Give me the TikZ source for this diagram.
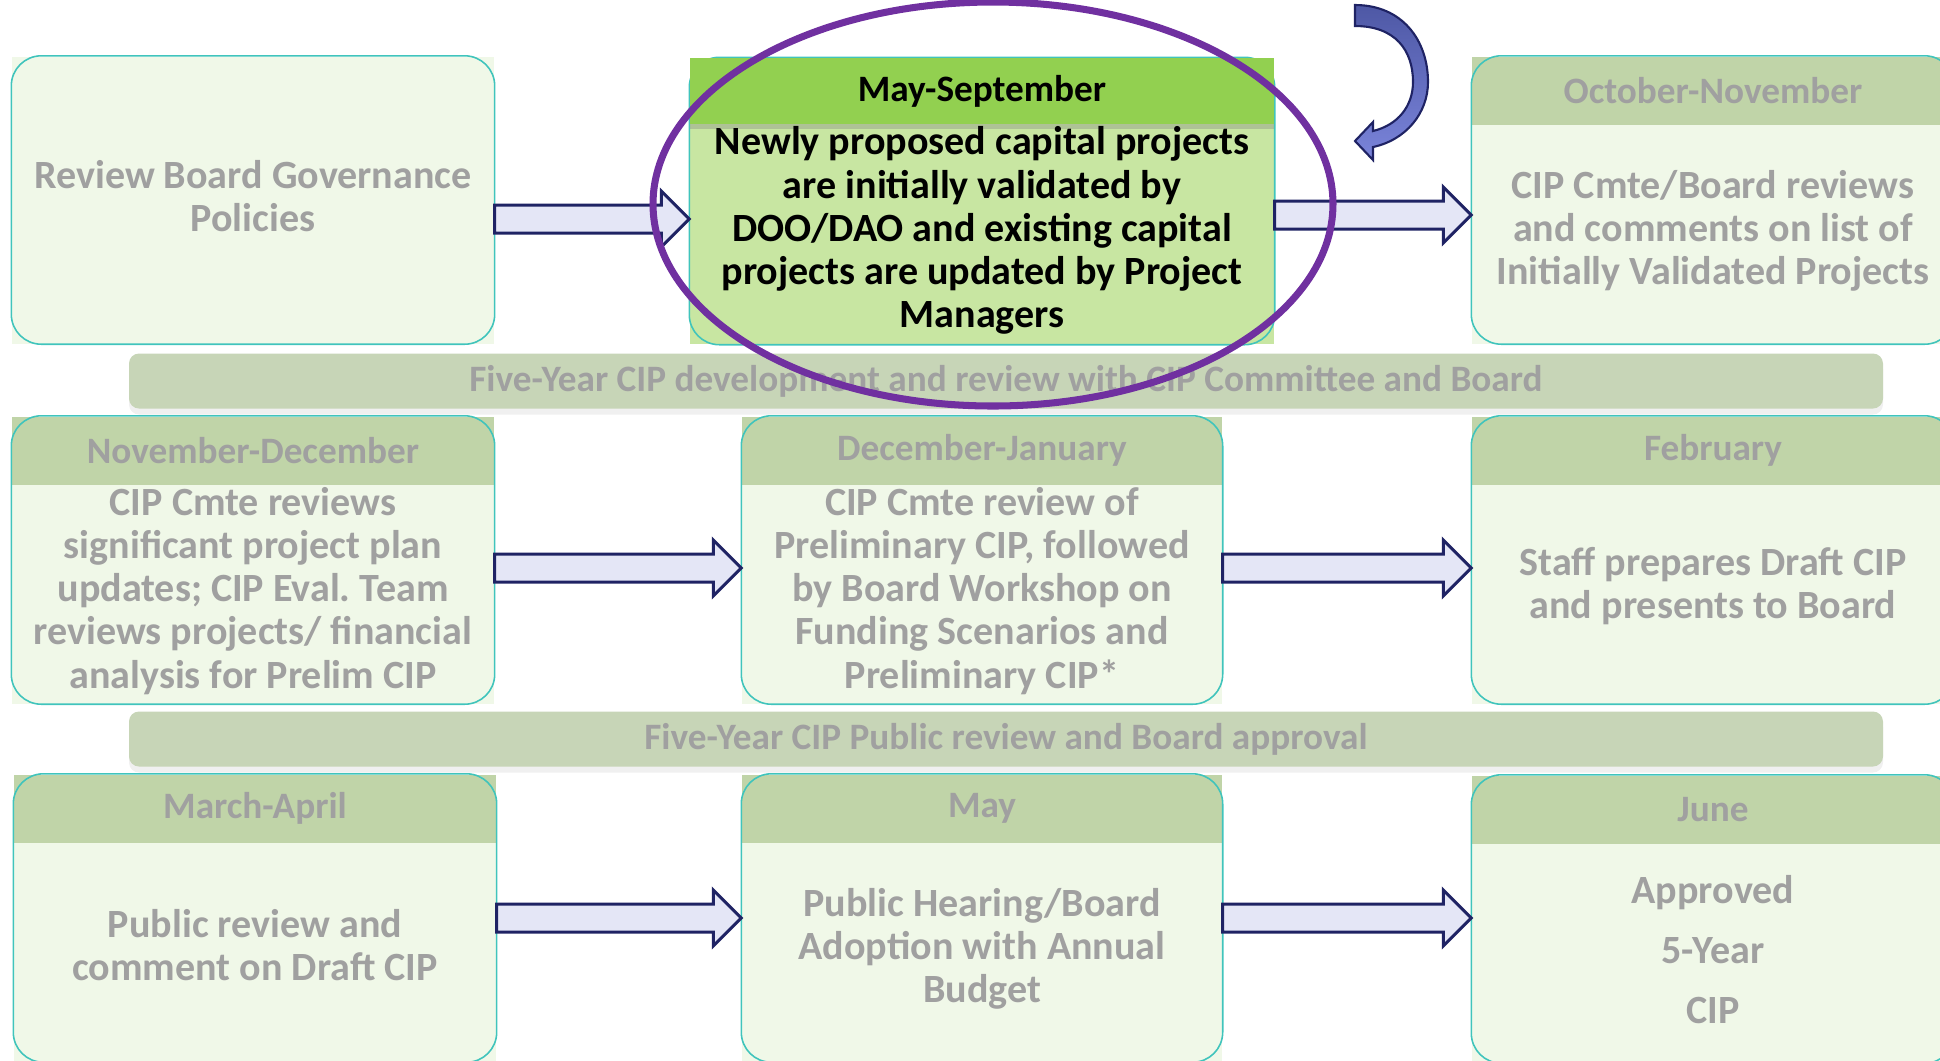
\documentclass[tikz,border=0pt]{standalone}
\usepackage{fontspec}
\setmainfont{Carlito}
\usetikzlibrary{calc,positioning,shadows}

\definecolor{stagefill}{RGB}{240,248,232}
\definecolor{stagerim}{RGB}{64,196,188}
\definecolor{monthfill}{RGB}{192,212,168}
\definecolor{fadegrey}{RGB}{160,160,160}
\definecolor{validfill}{RGB}{200,230,162}
\definecolor{validbar}{RGB}{146,208,80}
\definecolor{phasefill}{RGB}{199,213,183}
\definecolor{flowfill}{RGB}{228,230,246}
\definecolor{flowrim}{RGB}{31,35,100}
\definecolor{ringpurple}{RGB}{112,48,160}
\definecolor{swirltop}{RGB}{78,88,165}
\definecolor{swirlbottom}{RGB}{122,132,218}

\newcommand{\flowarrow}[2]{%
  \draw[flow] let \p1=(#1), \p2=(#2) in
    (\x1,\y1+1.4mm) -- (\x2-2.8mm,\y1+1.4mm) -- (\x2-2.8mm,\y1+2.8mm) --
    (\x2,\y1) -- (\x2-2.8mm,\y1-2.8mm) -- (\x2-2.8mm,\y1-1.4mm) --
    (\x1,\y1-1.4mm) -- cycle;}

\begin{document}
\begin{tikzpicture}[x=0.1mm,y=-0.1mm,
      every node/.style={font=\fontsize{11.4}{12.3}\selectfont\bfseries},
      stage/.style={fill=stagefill, minimum width=48.2mm, minimum height=28.7mm, inner sep=0pt},
      rim/.style={draw=stagerim, line width=0.45pt, rounded corners=3mm},
      month/.style={fill=monthfill, minimum width=48.2mm, minimum height=6.8mm, inner sep=0pt, text=fadegrey,
        anchor=north, font=\fontsize{10.6}{12}\selectfont\bfseries},
      says/.style={align=center, text=fadegrey, inner sep=0pt, yshift=0.4mm},
      phase/.style={fill=phasefill, rounded corners=1mm, minimum width=175.4mm, minimum height=5.5mm, inner sep=0pt,
        text=fadegrey, font=\fontsize{10.6}{12}\selectfont\bfseries,
        drop shadow={shadow xshift=0mm, shadow yshift=-0.6mm, opacity=0.12}},
      flow/.style={draw=flowrim, fill=flowfill, line width=0.85pt, line join=miter},
      ring/.style={draw=ringpurple, line width=2pt},
      swirl/.style={draw=flowrim, line width=0.6pt, top color=swirltop, bottom color=swirlbottom}]
      \useasboundingbox (0,0) rectangle (1940,1060);
      \clip (0,0) rectangle (1940,1060);

      \node[stage] at (253,200) (review) {};
      \draw[rim] (review.south west) rectangle (review.north east);
      \node[says] at (review) (reviewtxt) {Review Board Governance\\Policies};

      \node[stage, fill=validfill, minimum width=58.4mm, minimum height=28.6mm] at (982,201) (validate) {};
      \draw[rim] (validate.south west) rectangle (validate.north east);
      \node[month, fill=validbar, text=black, minimum width=58.4mm, minimum height=6.6mm,
        drop shadow={shadow xshift=0mm, shadow yshift=-0.5mm, opacity=0.35}] at (validate.north) (validatehd) {May-September};
      \node[says, text=black] at ($(validatehd.south)!0.5!(validate.south)$) (validatetxt)
        {Newly proposed capital projects\\are initially validated by\\DOO/DAO and existing capital\\projects are updated by Project\\Managers};

      \node[stage] at (1713,200) (cmtelist) {};
      \node[month] at (cmtelist.north) (cmtelisthd) {October-November};
      \draw[rim] (cmtelist.south west) rectangle (cmtelist.north east);
      \node[says] at ($(cmtelisthd.south)!0.5!(cmtelist.south)$) (cmtelisttxt)
        {CIP Cmte/Board reviews\\and comments on list of\\Initially Validated Projects};

      \node[phase] at (1006,381) (develop) {Five-Year CIP development and review with CIP Committee and Board};

      \node[stage] at (253,560) (prelim) {};
      \node[month] at (prelim.north) (prelimhd) {November-December};
      \draw[rim] (prelim.south west) rectangle (prelim.north east);
      \node[says] at ($(prelimhd.south)!0.5!(prelim.south)$) (prelimtxt)
        {CIP Cmte reviews\\significant project plan\\updates; CIP Eval.\ Team\\reviews projects/ financial\\analysis for Prelim CIP};

      \node[stage, minimum width=48mm] at (982,560) (workshop) {};
      \node[month, minimum width=48mm] at (workshop.north) (workshophd) {December-January};
      \draw[rim] (workshop.south west) rectangle (workshop.north east);
      \node[says] at ($(workshophd.south)!0.5!(workshop.south)$) (workshoptxt)
        {CIP Cmte review of\\Preliminary CIP, followed\\by Board Workshop on\\Funding Scenarios and\\Preliminary CIP*};

      \node[stage] at (1713,560) (draft) {};
      \node[month] at (draft.north) (drafthd) {February};
      \draw[rim] (draft.south west) rectangle (draft.north east);
      \node[says, yshift=0.5mm] at ($(drafthd.south)!0.5!(draft.south)$) (drafttxt)
        {Staff prepares Draft CIP\\and presents to Board};

      \node[phase] at (1006,739) (approval) {Five-Year CIP Public review and Board approval};

      \node[stage] at (255,918) (publicrev) {};
      \node[month] at (publicrev.north) (publicrevhd) {March-April};
      \draw[rim] (publicrev.south west) rectangle (publicrev.north east);
      \node[says, yshift=0.35mm] at ($(publicrevhd.south)!0.5!(publicrev.south)$) (publicrevtxt)
        {Public review and\\comment on Draft CIP};

      \node[stage, minimum width=48mm] at (982,918) (hearing) {};
      \node[month, minimum width=48mm] at (hearing.north) (hearinghd) {May};
      \draw[rim] (hearing.south west) rectangle (hearing.north east);
      \node[says] at ($(hearinghd.south)!0.5!(hearing.south)$) (hearingtxt)
        {Public Hearing/Board\\Adoption with Annual\\Budget};

      \node[stage] at (1713,919) (approved) {};
      \node[month] at (approved.north) (approvedhd) {June};
      \draw[rim] (approved.south west) rectangle (approved.north east);
      \node[says] at ($(approvedhd.south)!0.5!(approved.south)$) (approvedtxt)
        {Approved\\[4.8pt]5-Year\\[4.8pt]CIP};

      \flowarrow{[yshift=-1.9mm]review.east}{validate.west}
      \flowarrow{[yshift=-1.4mm]validate.east}{cmtelist.west}
      \flowarrow{[yshift=-0.8mm]prelim.east}{workshop.west}
      \flowarrow{[yshift=-0.8mm]workshop.east}{draft.west}
      \flowarrow{publicrev.east}{hearing.west}
      \flowarrow{hearing.east}{approved.west}

      \draw[swirl] (1355,5) .. controls (1402,5) and (1428,40) .. (1428,82)
        .. controls (1428,113) and (1406,140) .. (1373,147) -- (1373,160) -- (1355,141)
        -- (1373,122) -- (1373,131) .. controls (1398,125) and (1413,106) .. (1413,82)
        .. controls (1413,50) and (1395,26) .. (1355,26) -- cycle;

      \draw[ring] (993,204) ellipse [x radius=34mm, y radius=20.2mm];
\end{tikzpicture}
\end{document}
